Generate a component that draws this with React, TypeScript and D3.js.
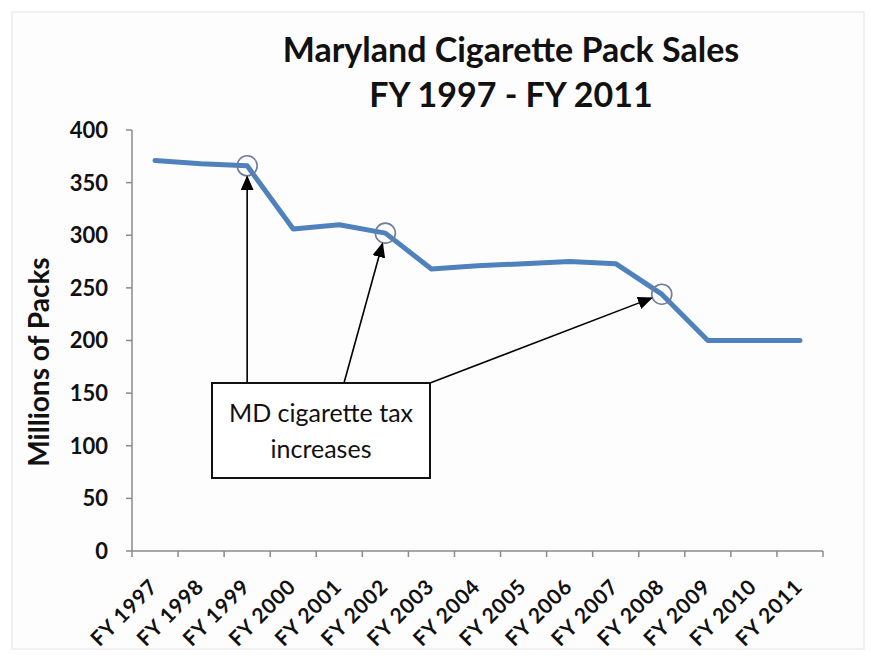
import React from "react";
import * as d3 from "d3";

const categories = [
  "FY 1997", "FY 1998", "FY 1999", "FY 2000", "FY 2001", "FY 2002", "FY 2003",
  "FY 2004", "FY 2005", "FY 2006", "FY 2007", "FY 2008", "FY 2009", "FY 2010", "FY 2011",
];
const packSales = [371, 368, 366, 306, 310, 302, 268, 271, 273, 275, 273, 244, 200, 200, 200];
const yTicks = [0, 50, 100, 150, 200, 250, 300, 350, 400];
const taxIncreaseYears = ["FY 1999", "FY 2002", "FY 2008"];
const titleLines = ["Maryland Cigarette Pack Sales", "FY 1997 - FY 2011"];
const annotationLines = ["MD cigarette tax", "increases"];

const W = 871;
const H = 656;
const plot = { left: 132, right: 823, top: 130, bottom: 551 };
const FONT = "Lato, 'Open Sans', sans-serif";

export default function App() {
  const x = d3.scaleBand<string>().domain(categories).range([plot.left, plot.right]);
  const y = d3.scaleLinear().domain([0, 400]).range([plot.bottom, plot.top]);
  const cx = (c: string) => (x(c) as number) + x.bandwidth() / 2;

  const line = d3
    .line<number>()
    .x((_, i) => cx(categories[i]))
    .y((d) => y(d));

  const box = { x0: 212, x1: 430, y0: 383, y1: 478 };
  const pts = taxIncreaseYears.map((c) => ({ x: cx(c), y: y(packSales[categories.indexOf(c)]) }));
  const starts = [
    { x: pts[0].x, y: box.y0 },
    { x: 344, y: box.y0 },
    { x: box.x1, y: box.y0 },
  ];
  const arrowEnd = (s: { x: number; y: number }, p: { x: number; y: number }) => {
    const dx = p.x - s.x;
    const dy = p.y - s.y;
    const len = Math.hypot(dx, dy);
    const back = 11;
    return { x: p.x - (dx / len) * back, y: p.y - (dy / len) * back };
  };

  const tickColor = "#8a8a8a";

  return (
    <svg width={W} height={H} style={{ position: "absolute", left: 0, top: 0, background: "#fff" }}>
      <defs>
        <marker id="arr" viewBox="0 0 10 10" refX="9" refY="5" markerWidth="15" markerHeight="13" orient="auto" markerUnits="userSpaceOnUse" preserveAspectRatio="none">
          <path d="M0,0 L10,5 L0,10 z" fill="#000" />
        </marker>
      </defs>
      <rect x={0} y={0} width={W} height={H} fill="#fff" />
      <rect x={12} y={12} width={852} height={637} fill="#fdfdfd" stroke="#ececec" strokeWidth={1.5} />

      {titleLines.map((t, i) => (
        <text key={t} x={511} y={62 + i * 45} textAnchor="middle" fontFamily={FONT} fontWeight={700} fontSize={34} fill="#111">
          {t}
        </text>
      ))}

      <text
        transform={`translate(49, 362) rotate(-90)`}
        textAnchor="middle"
        fontFamily={FONT}
        fontWeight={700}
        fontSize={28}
        fill="#111"
      >
        Millions of Packs
      </text>

      {/* y axis */}
      <line x1={plot.left} x2={plot.left} y1={plot.top} y2={plot.bottom} stroke={tickColor} strokeWidth={1.5} />
      {yTicks.map((t) => (
        <g key={t}>
          <line x1={plot.left - 6} x2={plot.left} y1={y(t)} y2={y(t)} stroke={tickColor} strokeWidth={1.5} />
          <text x={108} y={y(t)} dy="0.36em" textAnchor="end" fontFamily={FONT} fontWeight={700} fontSize={22} fill="#111">
            {t}
          </text>
        </g>
      ))}

      {/* x axis */}
      <line x1={plot.left} x2={plot.right} y1={plot.bottom} y2={plot.bottom} stroke={tickColor} strokeWidth={1.5} />
      {[...categories.map((c) => x(c) as number), plot.right].map((v, i) => (
        <line key={i} x1={v} x2={v} y1={plot.bottom} y2={plot.bottom + 6} stroke={tickColor} strokeWidth={1.5} />
      ))}
      {categories.map((c) => (
        <text
          key={c}
          transform={`translate(${cx(c) + 4}, ${plot.bottom + 37}) rotate(-45)`}
          textAnchor="end"
          fontFamily={FONT}
          fontWeight={700}
          fontSize={21}
          letterSpacing={0.8}
          fill="#111"
        >
          {c}
        </text>
      ))}

      {/* data line */}
      <path d={line(packSales) || ""} fill="none" stroke="#4f81bd" strokeWidth={5} strokeLinejoin="round" strokeLinecap="round" />

      {/* circles */}
      {pts.map((p, i) => (
        <circle key={i} cx={p.x} cy={p.y} r={10} fill="none" stroke="#6f7c9c" strokeWidth={1.6} />
      ))}

      {/* arrows */}
      {starts.map((s, i) => {
        const e = arrowEnd(s, pts[i]);
        return (
          <line key={i} x1={s.x} y1={s.y} x2={e.x} y2={e.y} stroke="#000" strokeWidth={1.6} markerEnd="url(#arr)" />
        );
      })}

      {/* annotation box */}
      <rect x={box.x0} y={box.y0} width={box.x1 - box.x0} height={box.y1 - box.y0} fill="#fff" stroke="#111" strokeWidth={2} />
      {annotationLines.map((t, i) => (
        <text key={t} x={(box.x0 + box.x1) / 2} y={422 + i * 36} textAnchor="middle" fontFamily={FONT} fontSize={25} fill="#111">
          {t}
        </text>
      ))}
    </svg>
  );
}
